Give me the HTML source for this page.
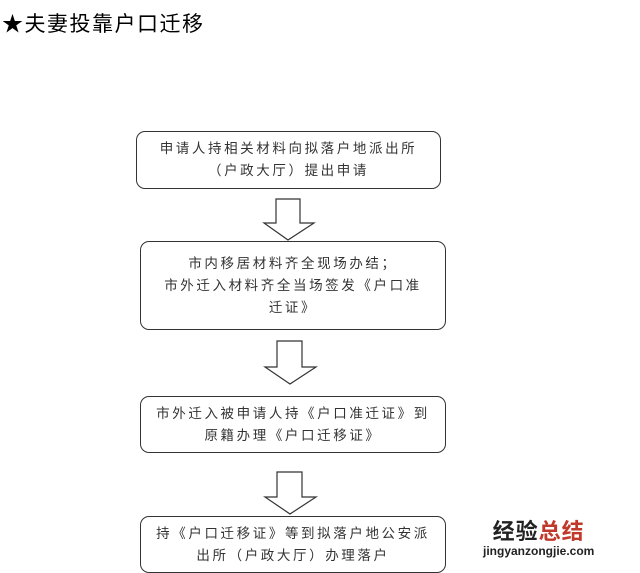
<!DOCTYPE html>
<html><head><meta charset="utf-8"><style>
body{margin:0;width:640px;height:573px;background:#fff;position:relative;overflow:hidden;font-family:"Liberation Sans","Noto Sans CJK SC",sans-serif;color:#222}
.t{position:absolute;left:2px;top:8px;font-size:21px;letter-spacing:1.5px;color:#000}
.b{position:absolute;border:1.3px solid #333;border-radius:9px;box-sizing:border-box;text-align:center;font-size:13.5px;line-height:22px;letter-spacing:2.6px;display:flex;align-items:center;justify-content:center;padding:0 6px;color:#333}
svg{position:absolute;left:0;top:0}
.w{position:absolute;left:483px;top:520px;text-align:center;font-weight:bold}
</style></head><body>
<div class="t">★夫妻投靠户口迁移</div>
<div class="b" style="left:136px;top:131px;width:305px;height:58px">申请人持相关材料向拟落户地派出所<br>（户政大厅）提出申请</div>
<div class="b" style="left:140px;top:241px;width:306px;height:89px">市内移居材料齐全现场办结；<br>市外迁入材料齐全当场签发《户口准<br>迁证》</div>
<div class="b" style="left:140px;top:396px;width:306px;height:57px">市外迁入被申请人持《户口准迁证》到<br>原籍办理《户口迁移证》</div>
<div class="b" style="left:140px;top:516px;width:306px;height:57px">持《户口迁移证》等到拟落户地公安派<br>出所（户政大厅）办理落户</div>
<svg width="640" height="573" fill="#fff" stroke="#333" stroke-width="1.2">
<polygon points="276,199 300,199 300,223 314,223 288,240 264,223 276,223"/>
<polygon points="277,341 302,341 302,367 316,367 290,384 265,367 277,367"/>
<polygon points="277,472 302,472 302,497 316,497 290,514 265,497 277,497"/>
</svg>
<div class="w"><div style="font-size:22px;line-height:24px;letter-spacing:1px"><span style="color:#222">经验</span><span style="color:#c0392b">总结</span></div><div style="font-size:12px;color:#222">jingyanzongjie.com</div></div>
</body></html>
